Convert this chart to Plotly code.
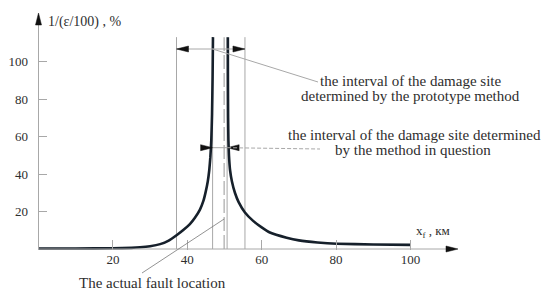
import plotly.graph_objects as go

# ---------------- data ----------------
left_x = [0, 10, 20, 25, 27.3, 30, 32.7, 35, 37.2, 39, 40.7, 42, 43.4, 44.3, 45.0, 45.5,
          45.9, 46.2, 46.45, 46.65, 46.8, 46.9]
left_y = [0.3, 0.3, 0.4, 0.6, 0.9, 1.5, 2.6, 4.5, 7.5, 10.3, 13.3, 16.5, 21, 25.5, 31, 36,
          42, 49, 58, 72, 92, 113]
right_x = [50.9, 50.92, 50.97, 51.05, 51.2, 51.5, 52.0, 52.8, 53.8, 55.5, 57.7, 60, 62.2,
           66.7, 70, 75, 80.2, 90, 100]
right_y = [113, 90, 70, 58, 50, 42, 36, 30, 25, 19.5, 15, 11.5, 8.8,
           6.0, 4.6, 3.5, 2.8, 2.4, 2.2]

x_ticks = [20, 40, 60, 80, 100]
y_ticks = [20, 40, 60, 80, 100]

prototype_interval = [37.1, 55.5]
method_interval = [46.8, 50.7]
fault_location = 49.9
line_top = 113

label_proto = ["the interval of the damage site", "determined by the prototype method"]
label_method = ["the interval of the damage site determined", "by the method in question"]
label_fault = "The actual fault location"
y_title = "1/(\u03b5/100) , %"
x_title = "x<sub>f</sub> , \u043a\u043c"

# ---------------- layout geometry ----------------
OFF = 8                      # page offset of the plot div (body margin)
W, H = 550 - OFF, 296 - OFF
ML, MR, MT, MB = 30, 10, 0, 46
PW, PH = W - ML - MR, H - MT - MB
OX, OY = 38.5 - OFF, 249.0 - OFF   # pixel position of the origin (div coords)
SX, SY = 3.72, 1.875               # pixels per unit
X0 = (ML - OX) / SX
X1 = X0 + PW / SX
Y0 = (OY - (H - MB)) / SY
Y1 = Y0 + PH / SY


def dx(page_px):
    return (page_px - OFF - OX) / SX


def dy(page_py):
    return (OY - (page_py - OFF)) / SY


def px(x):
    return (x - X0) / (X1 - X0)


def py(y):
    return (y - Y0) / (Y1 - Y0)


FONT = "Liberation Serif"
TXT = "#2e2e2e"
GRAY = "#a8a8a8"
DARK = "#16202b"

fig = go.Figure()
for xs, ys in ((left_x, left_y), (right_x, right_y)):
    fig.add_trace(go.Scatter(x=xs, y=ys, mode="lines",
                             line=dict(color=DARK, width=2.6, shape="spline", smoothing=0.4),
                             hoverinfo="skip", showlegend=False))

shapes = []
x_tip = dx(458)
y_tip = dy(13)
shapes.append(dict(type="line", xref="paper", yref="paper", x0=px(0), x1=px(x_tip - 2),
                   y0=py(0), y1=py(0), line=dict(color=GRAY, width=1)))
shapes.append(dict(type="line", xref="paper", yref="paper", x0=px(0), x1=px(0),
                   y0=py(0), y1=py(y_tip - 2), line=dict(color=GRAY, width=1)))


def head(x, y, path):
    return dict(type="path", xref="paper", yref="paper", xsizemode="pixel", ysizemode="pixel",
                xanchor=px(x), yanchor=py(y), path=path,
                fillcolor="#111111", line=dict(color="#111111", width=0.5))


LEFT = "M0,0 L12,3 L12,-3 Z"
RIGHT = "M0,0 L-12,3 L-12,-3 Z"
UP = "M0,0 L-3,-12 L3,-12 Z"
shapes.append(head(x_tip, 0, RIGHT))
shapes.append(head(0, y_tip, UP))

for xv in prototype_interval + method_interval:
    shapes.append(dict(type="line", xref="x", yref="y", x0=xv, x1=xv, y0=0, y1=line_top,
                       line=dict(color=GRAY, width=1), layer="below"))
shapes.append(dict(type="line", xref="x", yref="y", x0=fault_location, x1=fault_location,
                   y0=0, y1=line_top, line=dict(color=GRAY, width=1.2, dash="14px,4px"),
                   layer="below"))

# prototype interval arrow + leader
ya = dy(49)
shapes.append(dict(type="line", xref="x", yref="y", x0=prototype_interval[0], x1=prototype_interval[1],
                   y0=ya, y1=ya, line=dict(color=GRAY, width=1)))
shapes.append(head(prototype_interval[0], ya, LEFT))
shapes.append(head(prototype_interval[1], ya, RIGHT))
shapes.append(dict(type="line", xref="x", yref="y", x0=method_interval[0], y0=ya,
                   x1=dx(318), y1=dy(82), line=dict(color=GRAY, width=1)))

# method interval arrow + leader
yb = dy(147.7)
shapes.append(dict(type="line", xref="x", yref="y", x0=method_interval[0], x1=method_interval[1],
                   y0=yb, y1=yb, line=dict(color=GRAY, width=1)))
shapes.append(head(method_interval[0], yb, RIGHT))
shapes.append(head(method_interval[1], yb, LEFT))
shapes.append(dict(type="line", xref="x", yref="y", x0=method_interval[1], y0=yb,
                   x1=dx(320), y1=dy(149), line=dict(color=GRAY, width=1, dash="4px,2px")))

# fault leader
shapes.append(dict(type="line", xref="paper", yref="paper", x0=px(fault_location), y0=py(dy(219)),
                   x1=px(dx(142)), y1=py(dy(273)), line=dict(color="#777777", width=0.8)))

annotations = []


def text(s, cx, cy, size=15, xanchor="center"):
    annotations.append(dict(text=s, xref="paper", yref="paper", x=px(dx(cx)), y=py(dy(cy)),
                            xanchor=xanchor, yanchor="middle", showarrow=False,
                            font=dict(family=FONT, size=size, color=TXT)))


text(label_proto[0], 411, 81)
text(label_proto[1], 410, 96)
text(label_method[0], 414, 135)
text(label_method[1], 413, 150)
text(label_fault, 152, 283)
text(y_title, 46, 22, size=14, xanchor="left")
text(x_title, 414, 231, size=13, xanchor="left")

fig.update_layout(
    width=W, height=H,
    margin=dict(l=ML, r=MR, t=MT, b=MB),
    plot_bgcolor="white", paper_bgcolor="white",
    shapes=shapes, annotations=annotations,
    xaxis=dict(range=[X0, X1], showgrid=False, zeroline=False, showline=False,
               tickmode="array", tickvals=x_ticks, ticks="inside", ticklen=10,
               tickcolor=GRAY, tickwidth=1,
               tickfont=dict(family=FONT, size=13, color=TXT)),
    yaxis=dict(range=[Y0, Y1], showgrid=False, zeroline=False, showline=False,
               tickmode="array", tickvals=y_ticks, ticks="inside", ticklen=9,
               tickcolor=GRAY, tickwidth=1, ticklabelstandoff=9,
               tickfont=dict(family=FONT, size=13, color=TXT)),
)

fig.write_html("out.html")
